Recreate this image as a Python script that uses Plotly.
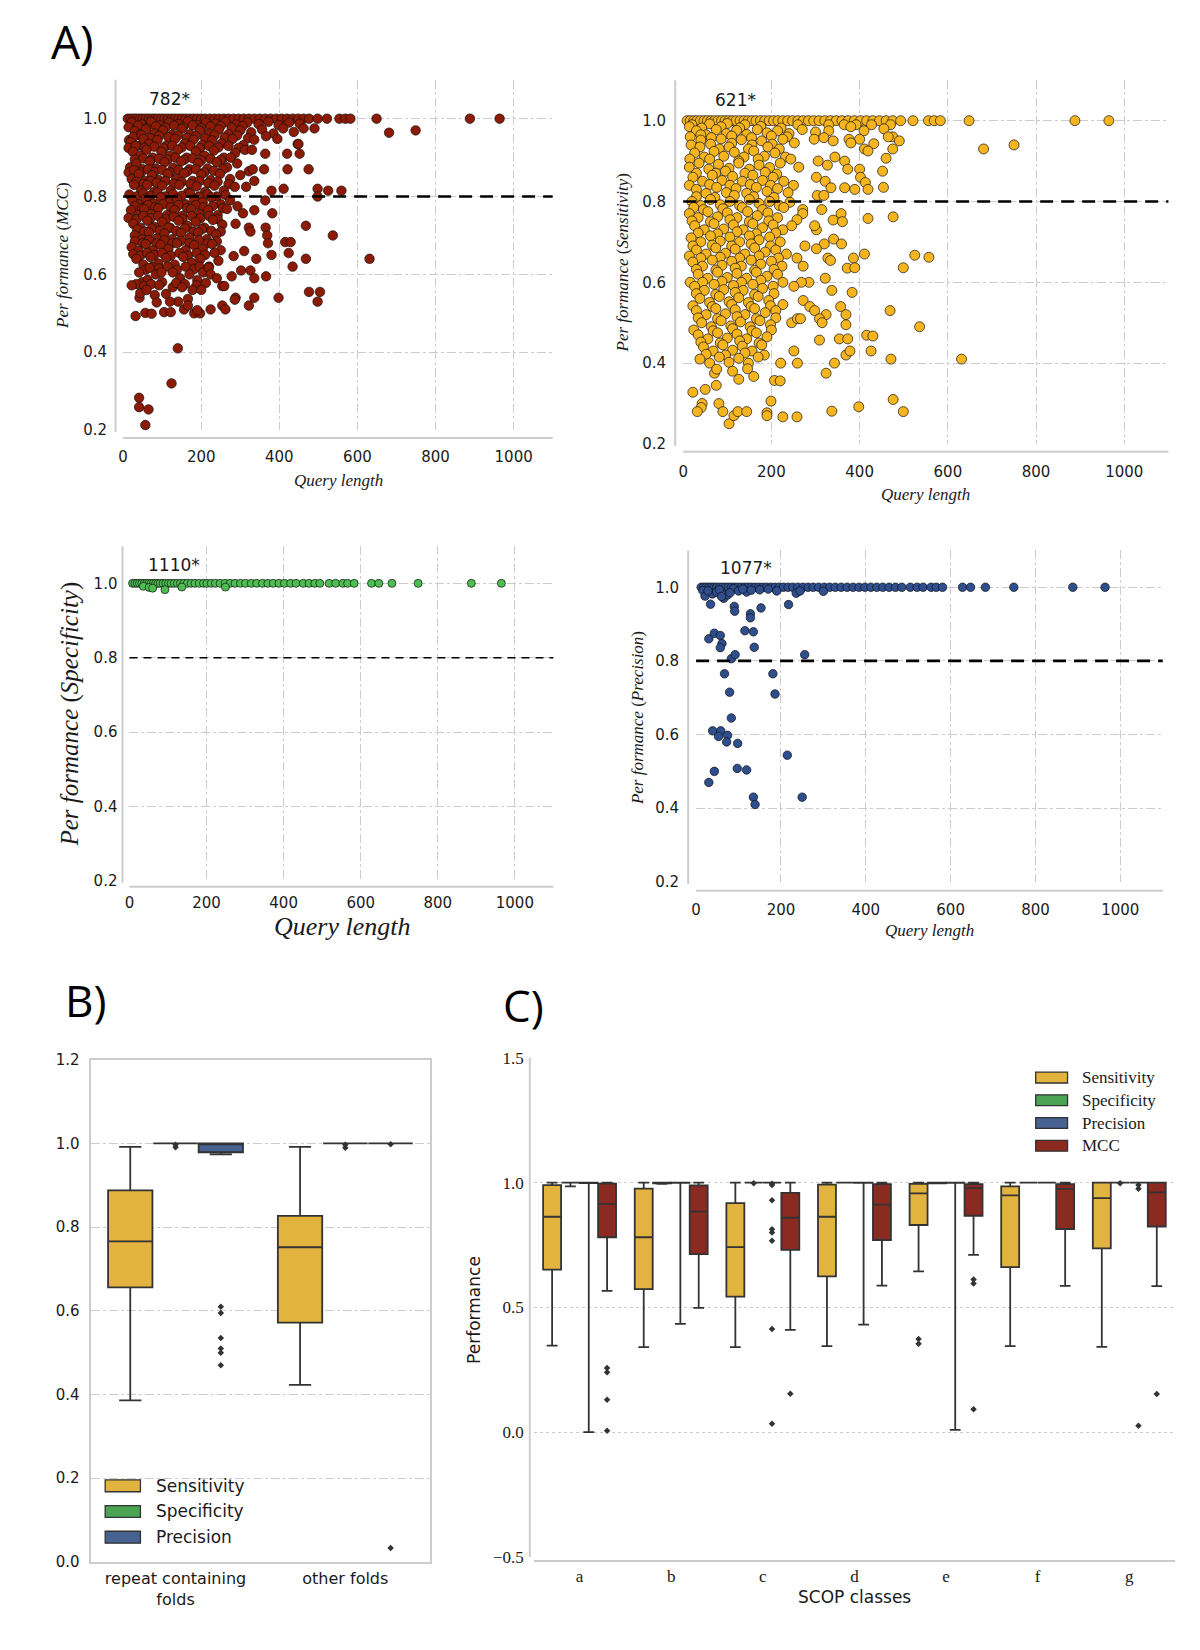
import plotly.graph_objects as go

W, H = 1200, 1650

# ===================== DATA =====================
query_ticks = [0, 200, 400, 600, 800, 1000]
perf_ticks = [0.2, 0.4, 0.6, 0.8, 1.0]
query_range = [0, 1100]
perf_range = [0.2, 1.1]
threshold = 0.8
metric_names = ["MCC", "Sensitivity", "Specificity", "Precision"]
perfect_labels = ["782*", "621*", "1110*", "1077*"]

# (query length, MCC)
mcc_points = [
    (12,1.0),(20,1.0),(28,1.0),(35,1.0),(43,1.0),(50,1.0),(58,1.0),(66,1.0),(74,1.0),(82,1.0),(90,1.0),(98,1.0),
    (106,1.0),(115,1.0),(124,1.0),(133,1.0),(142,1.0),(151,1.0),(160,1.0),(170,1.0),(180,1.0),(190,1.0),(200,1.0),
    (210,1.0),(222,1.0),(234,1.0),(246,1.0),(258,1.0),(270,1.0),(283,1.0),(296,1.0),(309,1.0),(322,1.0),(336,1.0),
    (350,1.0),(364,1.0),(378,1.0),(392,1.0),(406,1.0),(420,1.0),(434,1.0),(448,1.0),(462,1.0),(476,1.0),(498,1.0),
    (522,1.0),(554,1.0),(569,1.0),(582,1.0),(649,1.0),(888,1.0),(964,1.0),
    (22,0.99),(48,0.985),(71,0.992),(95,0.983),(118,0.99),(142,0.986),(166,0.993),(189,0.984),(212,0.99),(236,0.987),
    (262,0.992),(290,0.985),(318,0.99),(347,0.986),(372,0.992),(398,0.984),(425,0.99),(452,0.987),
    (14,0.978),(38,0.982),(60,0.976),(84,0.98),(108,0.977),(131,0.982),(154,0.978),(178,0.983),(200,0.976),(224,0.98),
    (250,0.981),(278,0.977),(306,0.981),
    (15,0.945),(30,0.968),(42,0.958),(58,0.972),(80,0.962),(102,0.97),(125,0.958),(150,0.974),(172,0.96),(196,0.97),
    (220,0.962),(245,0.972),(270,0.96),(300,0.97),(328,0.965),(356,0.972),(385,0.962),(410,0.975),(437,0.966),
    (462,0.975),(490,0.975),(681,0.964),(749,0.97),
    (26,0.953),(47,0.958),(70,0.95),(92,0.956),(116,0.952),(140,0.957),(163,0.951),(186,0.955),(210,0.95),(234,0.957),
    (260,0.952),(292,0.957),(320,0.95),
    (20,0.94),(36,0.93),(52,0.948),(66,0.935),(88,0.945),(110,0.93),(133,0.948),(158,0.936),(180,0.946),(203,0.932),
    (228,0.944),(252,0.936),(280,0.948),(308,0.932),(336,0.946),(366,0.955),(395,0.948),(447,0.935),(449,0.935),
    (14,0.925),(32,0.93),(55,0.925),(80,0.928),(103,0.924),(126,0.93),(150,0.926),(172,0.93),(196,0.924),(220,0.93),
    (244,0.926),(270,0.93),(296,0.925),
    (25,0.915),(44,0.905),(60,0.92),(76,0.9),(98,0.915),(120,0.905),(140,0.92),(163,0.9),(186,0.915),(208,0.905),
    (232,0.918),(258,0.9),(287,0.912),(312,0.92),(330,0.92),(364,0.91),(420,0.91),(452,0.91),
    (30,0.895),(52,0.898),(70,0.893),(92,0.897),(114,0.895),(134,0.9),(156,0.894),(178,0.898),(200,0.893),(224,0.897),
    (250,0.894),(276,0.9),
    (18,0.875),(34,0.885),(50,0.87),(68,0.89),(84,0.872),(106,0.888),(128,0.874),(148,0.89),(170,0.87),(192,0.886),
    (216,0.872),(240,0.888),(266,0.875),(292,0.885),(322,0.865),(332,0.87),(361,0.87),(421,0.87),(475,0.87),
    (14,0.862),(28,0.868),(46,0.862),(64,0.87),(80,0.863),(100,0.868),(120,0.862),(142,0.868),(164,0.864),(186,0.87),
    (208,0.862),(232,0.866),(256,0.87),
    (22,0.845),(40,0.858),(56,0.84),(74,0.855),(92,0.842),(114,0.858),(136,0.845),(156,0.86),(178,0.84),(200,0.856),
    (224,0.842),(248,0.858),(274,0.845),(300,0.855),(336,0.84),
    (34,0.838),(52,0.832),(70,0.84),(86,0.835),(108,0.84),(130,0.833),(150,0.838),(172,0.832),(196,0.84),(218,0.834),
    (242,0.838),(270,0.832),
    (28,0.83),(46,0.815),(62,0.83),(80,0.812),(100,0.828),(122,0.815),(144,0.83),(166,0.81),(188,0.826),(210,0.812),
    (234,0.828),(258,0.815),(286,0.825),(315,0.825),(380,0.815),(411,0.82),(498,0.82),(525,0.815),(559,0.815),
    (16,0.805),(34,0.8),(52,0.808),(70,0.802),(88,0.81),(108,0.8),(128,0.806),(150,0.802),(172,0.808),(194,0.8),
    (216,0.806),(240,0.8),(262,0.804),
    (24,0.79),(42,0.78),(58,0.795),(78,0.782),(96,0.798),(118,0.785),(138,0.795),(160,0.78),(182,0.792),(204,0.785),
    (226,0.798),(250,0.78),(274,0.79),(364,0.79),(498,0.80),
    (30,0.775),(48,0.77),(64,0.778),(82,0.772),(102,0.78),(122,0.772),(142,0.778),(164,0.77),(186,0.778),(206,0.772),
    (230,0.776),(256,0.77),
    (20,0.765),(38,0.752),(54,0.768),(72,0.755),(90,0.77),(112,0.752),(132,0.765),(152,0.75),(174,0.768),(196,0.755),
    (218,0.765),(242,0.752),(266,0.768),(293,0.775),(307,0.757),(336,0.765),(382,0.757),
    (14,0.745),(34,0.742),(52,0.75),(70,0.744),(90,0.75),(110,0.742),(130,0.748),(152,0.742),(176,0.75),(198,0.744),
    (220,0.75),(242,0.742),
    (26,0.73),(44,0.72),(62,0.738),(80,0.722),(100,0.735),(120,0.72),(142,0.738),(164,0.725),(186,0.735),(208,0.72),
    (230,0.74),(254,0.728),(288,0.73),(322,0.72),(365,0.72),(468,0.725),
    (36,0.715),(54,0.71),(74,0.718),(94,0.712),(116,0.72),(136,0.712),(158,0.718),(180,0.71),(202,0.716),(226,0.712),
    (250,0.71),
    (30,0.7),(48,0.69),(66,0.708),(86,0.692),(106,0.705),(126,0.69),(148,0.706),(170,0.694),(192,0.708),(214,0.69),
    (238,0.702),(326,0.71),(369,0.70),(415,0.683),(429,0.683),(537,0.70),
    (30,0.685),(50,0.68),(66,0.688),(86,0.68),(106,0.688),(126,0.68),(148,0.686),(170,0.68),(194,0.688),(216,0.68),
    (240,0.685),
    (22,0.67),(40,0.66),(58,0.678),(76,0.662),(96,0.676),(116,0.665),(138,0.68),(160,0.662),(182,0.675),(204,0.665),
    (228,0.678),(250,0.662),(310,0.66),(371,0.68),(380,0.65),(424,0.655),
    (26,0.652),(44,0.648),(62,0.655),(80,0.65),(100,0.655),(122,0.648),(144,0.655),(166,0.648),(188,0.655),(210,0.65),
    (234,0.655),
    (34,0.64),(52,0.625),(70,0.645),(90,0.628),(110,0.642),(132,0.625),(154,0.645),(176,0.63),(198,0.64),(220,0.62),
    (244,0.635),(283,0.647),(341,0.64),(434,0.62),(468,0.64),(631,0.64),
    (58,0.612),(76,0.62),(92,0.615),(114,0.62),(138,0.612),(160,0.62),(182,0.614),(196,0.62),
    (41,0.605),(49,0.58),(63,0.586),(68,0.617),(84,0.6),(98,0.605),(100,0.58),(127,0.605),(127,0.567),(146,0.59),
    (170,0.6),(190,0.585),(205,0.605),(219,0.617),(224,0.6),(240,0.59),(278,0.595),(302,0.61),(326,0.61),(336,0.59),
    (366,0.595),
    (34,0.575),(54,0.57),(72,0.575),(92,0.572),(136,0.578),(158,0.575),(188,0.572),(212,0.578),
    (22,0.572),(42,0.54),(44,0.552),(151,0.567),(166,0.537),(141,0.53),(120,0.53),(81,0.547),(86,0.528),(254,0.57),
    (259,0.57),(288,0.54),(286,0.535),(336,0.54),(398,0.54),(476,0.555),(504,0.555),(498,0.53),(178,0.56),(200,0.56),
    (60,0.56),(110,0.55),
    (32,0.493),(57,0.501),(73,0.499),(105,0.503),(122,0.503),(156,0.51),(182,0.5),(197,0.50),(224,0.51),(254,0.52),
    (322,0.52),(166,0.52),(190,0.508),(262,0.51),
    (140,0.41),(124,0.32),(41,0.283),(41,0.259),(65,0.253),(57,0.213),
]

# (query length, Sensitivity)
sens_points = [
    (9,1.0),(16,1.0),(24,1.0),(31,1.0),(39,1.0),(47,1.0),(55,1.0),(63,1.0),(71,1.0),(79,1.0),(87,1.0),(95,1.0),
    (103,1.0),(111,1.0),(120,1.0),(129,1.0),(138,1.0),(147,1.0),(156,1.0),(165,1.0),(175,1.0),(185,1.0),(195,1.0),
    (205,1.0),(215,1.0),(226,1.0),(237,1.0),(248,1.0),(260,1.0),(272,1.0),(284,1.0),(296,1.0),(308,1.0),(321,1.0),
    (334,1.0),(347,1.0),(360,1.0),(374,1.0),(388,1.0),(402,1.0),(416,1.0),(430,1.0),(445,1.0),(460,1.0),(475,1.0),
    (493,1.0),(521,1.0),(556,1.0),(569,1.0),(583,1.0),(648,1.0),(888,1.0),(965,1.0),
    (20,0.99),(60,0.992),(100,0.993),(140,0.99),(260,0.99),(330,0.99),(365,0.99),(392,0.99),(427,0.99),(470,0.99),
    (14,0.985),(42,0.982),(86,0.985),(128,0.982),(176,0.986),(222,0.982),
    (30,0.975),(52,0.965),(75,0.978),(98,0.968),(121,0.976),(144,0.966),(168,0.978),(190,0.97),(214,0.975),(240,0.968),
    (270,0.978),(300,0.972),(330,0.975),(380,0.985),(410,0.975),(455,0.98),(475,0.96),(490,0.95),
    (16,0.96),(40,0.965),(64,0.958),(110,0.962),(155,0.958),(200,0.962),(236,0.96),
    (18,0.94),(40,0.952),(62,0.942),(86,0.955),(110,0.944),(132,0.953),(156,0.94),(178,0.95),(202,0.942),(226,0.954),
    (252,0.945),(297,0.954),(319,0.958),(340,0.95),(376,0.954),(400,0.954),(380,0.945),(432,0.943),(475,0.93),
    (411,0.93),(419,0.925),(681,0.93),(750,0.94),(465,0.96),
    (38,0.935),(82,0.93),(104,0.935),(148,0.93),(192,0.935),(218,0.93),
    (26,0.92),(48,0.91),(70,0.924),(92,0.912),(116,0.922),(138,0.91),(160,0.925),(184,0.912),(208,0.92),(232,0.91),
    (306,0.90),(344,0.91),(366,0.90),(460,0.907),
    (15,0.905),(60,0.905),(126,0.9),(170,0.905),(244,0.905),
    (14,0.885),(36,0.895),(58,0.88),(80,0.892),(104,0.882),(126,0.895),(150,0.88),(172,0.89),(196,0.884),(220,0.895),
    (262,0.885),(327,0.89),(373,0.88),(400,0.88),(452,0.875),
    (30,0.87),(74,0.87),(96,0.875),(140,0.87),(186,0.872),(212,0.868),
    (22,0.86),(44,0.85),(66,0.865),(88,0.852),(112,0.862),(134,0.85),(158,0.865),(180,0.852),(204,0.86),(228,0.85),
    (302,0.86),(322,0.85),(402,0.86),(413,0.847),
    (14,0.84),(60,0.842),(106,0.84),(152,0.842),(198,0.84),(250,0.84),
    (30,0.83),(52,0.82),(76,0.835),(98,0.822),(120,0.832),(144,0.82),(166,0.835),(190,0.825),(214,0.832),(238,0.822),
    (335,0.834),(366,0.834),(389,0.83),(419,0.83),(454,0.835),(304,0.815),(319,0.815),
    (30,0.812),(72,0.81),(116,0.815),(160,0.812),(206,0.81),
    (20,0.8),(40,0.79),(62,0.805),(84,0.792),(106,0.8),(128,0.79),(150,0.805),(172,0.795),(196,0.8),(218,0.79),
    (242,0.798),(314,0.78),
    (24,0.785),(46,0.78),(90,0.782),(134,0.785),(180,0.78),(228,0.785),
    (14,0.77),(34,0.76),(56,0.775),(78,0.762),(100,0.772),(122,0.76),(146,0.775),(168,0.765),(192,0.772),(214,0.76),
    (271,0.78),(271,0.77),(340,0.754),(358,0.77),(361,0.75),(419,0.758),(476,0.762),
    (20,0.752),(62,0.75),(106,0.755),(150,0.75),(194,0.752),
    (26,0.74),(48,0.73),(70,0.745),(92,0.732),(114,0.742),(136,0.73),(158,0.745),(180,0.735),(204,0.742),(226,0.73),
    (258,0.755),(246,0.74),(302,0.73),(298,0.74),
    (34,0.722),(78,0.72),(122,0.725),(166,0.72),(210,0.722),
    (18,0.71),(40,0.7),(62,0.715),(84,0.702),(106,0.712),(128,0.7),(150,0.715),(172,0.705),(196,0.712),(220,0.7),
    (341,0.707),(359,0.695),(320,0.695),(302,0.683),(276,0.69),
    (22,0.69),(66,0.692),(110,0.69),(154,0.695),(198,0.69),
    (30,0.68),(52,0.67),(74,0.685),(96,0.672),(118,0.682),(140,0.67),(162,0.685),(186,0.675),(210,0.68),(234,0.67),
    (258,0.66),(328,0.66),(334,0.654),(386,0.66),(411,0.67),(525,0.667),(557,0.662),
    (14,0.665),(40,0.66),(84,0.662),(128,0.66),(172,0.665),(216,0.66),
    (22,0.65),(44,0.64),(66,0.655),(88,0.642),(110,0.652),(132,0.64),(154,0.655),(176,0.645),(200,0.652),(224,0.64),
    (272,0.64),(372,0.635),(389,0.636),(499,0.636),
    (30,0.632),(74,0.63),(118,0.635),(162,0.63),(206,0.632),
    (34,0.62),(56,0.61),(78,0.625),(100,0.612),(122,0.622),(144,0.61),(166,0.625),(190,0.615),(214,0.62),(285,0.60),
    (268,0.60),(322,0.61),
    (16,0.6),(44,0.6),(88,0.602),(132,0.6),(176,0.605),(226,0.6),
    (26,0.59),(48,0.58),(70,0.595),(92,0.582),(114,0.592),(136,0.58),(158,0.595),(180,0.585),(204,0.59),(251,0.59),
    (337,0.58),(383,0.575),
    (30,0.572),(74,0.57),(118,0.575),(162,0.57),(206,0.572),
    (38,0.56),(60,0.55),(82,0.565),(104,0.552),(126,0.562),(148,0.55),(170,0.565),(194,0.555),(226,0.545),(272,0.555),
    (287,0.54),(357,0.54),
    (22,0.542),(66,0.54),(110,0.545),(154,0.54),(198,0.542),
    (30,0.53),(52,0.52),(74,0.535),(96,0.522),(118,0.532),(140,0.52),(162,0.535),(186,0.525),(210,0.53),(298,0.53),
    (324,0.52),(369,0.52),(469,0.53),
    (34,0.512),(78,0.51),(122,0.515),(166,0.51),(210,0.512),
    (42,0.5),(64,0.49),(86,0.505),(108,0.492),(130,0.502),(152,0.49),(174,0.505),(198,0.495),(246,0.50),(259,0.51),
    (266,0.51),(309,0.51),(315,0.50),(369,0.495),(536,0.49),
    (24,0.482),(68,0.48),(112,0.485),(156,0.48),(200,0.482),
    (34,0.47),(56,0.46),(78,0.475),(100,0.462),(122,0.472),(144,0.46),(166,0.475),(190,0.465),(354,0.46),(373,0.46),
    (309,0.457),(416,0.469),(430,0.467),
    (40,0.452),(84,0.45),(128,0.455),(172,0.45),
    (46,0.44),(68,0.43),(90,0.445),(112,0.432),(134,0.442),(156,0.43),(178,0.445),(251,0.43),(369,0.42),(378,0.43),
    (426,0.43),
    (52,0.422),(96,0.42),(140,0.425),(184,0.42),
    (38,0.41),(60,0.4),(82,0.415),(104,0.402),(126,0.412),(148,0.4),(170,0.415),(221,0.40),(259,0.40),(343,0.40),
    (471,0.41),(631,0.41),
    (75,0.345),(71,0.375),(76,0.385),(112,0.38),(126,0.36),(146,0.386),(160,0.367),(207,0.357),(220,0.356),(324,0.375),
    (22,0.328),(50,0.335),(43,0.3),(41,0.29),(32,0.28),(81,0.3),(90,0.28),(104,0.25),(115,0.27),(124,0.28),
    (144,0.28),(190,0.277),(190,0.27),(199,0.306),(226,0.267),(258,0.267),(337,0.281),(398,0.292),(476,0.31),(499,0.28),
]

# (query length, Specificity)
spec_points = [
    (8,1.0),(14,1.0),(20,1.0),(26,1.0),(32,1.0),(38,1.0),(44,1.0),(50,1.0),(56,1.0),(62,1.0),(68,1.0),(74,1.0),
    (80,1.0),(87,1.0),(94,1.0),(101,1.0),(108,1.0),(116,1.0),(124,1.0),(132,1.0),(141,1.0),(150,1.0),(160,1.0),
    (170,1.0),(181,1.0),(192,1.0),(201,1.0),(212,1.0),(223,1.0),(235,1.0),(248,1.0),(261,1.0),(274,1.0),(288,1.0),
    (301,1.0),(316,1.0),(330,1.0),(345,1.0),(359,1.0),(373,1.0),(388,1.0),(402,1.0),(418,1.0),(432,1.0),(451,1.0),
    (466,1.0),(481,1.0),(494,1.0),(518,1.0),(535,1.0),(554,1.0),(566,1.0),(583,1.0),(628,1.0),(647,1.0),(681,1.0),
    (749,1.0),(887,1.0),(965,1.0),
    (36,0.992),(51,0.989),(60,0.987),(92,0.983),(136,0.99),(249,0.99),
]

# (query length, Precision)
prec_points = [
    (12,1.0),(18,1.0),(24,1.0),(30,1.0),(36,1.0),(42,1.0),(48,1.0),(55,1.0),(62,1.0),(69,1.0),(76,1.0),(83,1.0),
    (90,1.0),(98,1.0),(106,1.0),(114,1.0),(122,1.0),(130,1.0),(139,1.0),(148,1.0),(157,1.0),(166,1.0),(176,1.0),
    (186,1.0),(196,1.0),(206,1.0),(217,1.0),(228,1.0),(240,1.0),(252,1.0),(264,1.0),(276,1.0),(289,1.0),(302,1.0),
    (315,1.0),(328,1.0),(342,1.0),(356,1.0),(370,1.0),(384,1.0),(398,1.0),(412,1.0),(426,1.0),(440,1.0),(455,1.0),
    (470,1.0),(485,1.0),(505,1.0),(521,1.0),(535,1.0),(554,1.0),(566,1.0),(581,1.0),(628,1.0),(647,1.0),(682,1.0),
    (749,1.0),(888,1.0),(964,1.0),
    (16,0.991),(21,0.976),(39,0.982),(48,0.987),(65,0.97),(74,0.979),(88,0.996),(119,0.987),(236,0.984),(300,0.989),
    (28,0.99),(55,0.993),(80,0.985),(60,0.975),(100,0.99),(110,0.995),(130,0.992),(150,0.993),(170,0.995),(190,0.99),
    (245,0.99),
    (34,0.954),(90,0.948),(91,0.935),(128,0.928),(128,0.917),(153,0.944),(218,0.953),(115,0.882),(135,0.879),
    (30,0.86),(43,0.875),(57,0.869),(61,0.847),(57,0.836),(137,0.837),(83,0.806),(92,0.817),(256,0.817),
    (67,0.765),(181,0.765),(186,0.71),(79,0.715),(83,0.645),(39,0.61),(58,0.61),(53,0.595),(74,0.598),(72,0.58),
    (98,0.576),(215,0.544),(97,0.508),(119,0.504),(43,0.5),(30,0.47),(135,0.43),(139,0.41),(250,0.43),
]

# ---- B) box statistics: (lower whisker, Q1, median, Q3, upper whisker) ----
fold_groups = ["repeat containing<br>folds", "other folds"]
b_sensitivity = [(0.386, 0.656, 0.766, 0.888, 0.992), (0.423, 0.572, 0.752, 0.827, 0.992)]
b_specificity = [(1.0, 1.0, 1.0, 1.0, 1.0), (1.0, 1.0, 1.0, 1.0, 1.0)]
b_precision = [(0.974, 0.979, 1.0, 1.0, 1.0), (1.0, 1.0, 1.0, 1.0, 1.0)]
b_sens_fliers = [[], []]
b_spec_fliers = [[0.997, 0.991], [0.997, 0.99]]
b_prec_fliers = [[0.61, 0.595, 0.535, 0.51, 0.50, 0.47], [0.998, 0.033]]
b_ticks = [0.0, 0.2, 0.4, 0.6, 0.8, 1.0, 1.2]

# ---- C) box statistics per SCOP class ----
scop_classes = ["a", "b", "c", "d", "e", "f", "g"]
c_sensitivity = [
    (0.347, 0.651, 0.863, 0.990, 1.0), (0.341, 0.573, 0.781, 0.976, 1.0), (0.341, 0.543, 0.741, 0.918, 1.0),
    (0.345, 0.624, 0.863, 0.992, 1.0), (0.644, 0.830, 0.957, 0.995, 1.0), (0.345, 0.661, 0.949, 0.985, 1.0),
    (0.342, 0.736, 0.938, 1.0, 1.0)]
c_specificity = [
    (0.985, 1.0, 1.0, 1.0, 1.0), (0.995, 0.997, 1.0, 1.0, 1.0), (1.0, 1.0, 1.0, 1.0, 1.0),
    (1.0, 1.0, 1.0, 1.0, 1.0), (0.997, 0.997, 1.0, 1.0, 1.0), (1.0, 1.0, 1.0, 1.0, 1.0),
    (1.0, 1.0, 1.0, 1.0, 1.0)]
c_precision = [
    (0.0, 0.998, 1.0, 1.0, 1.0), (0.434, 0.999, 1.0, 1.0, 1.0), (1.0, 1.0, 1.0, 1.0, 1.0),
    (0.431, 0.999, 1.0, 1.0, 1.0), (0.009, 0.999, 1.0, 1.0, 1.0), (1.0, 1.0, 1.0, 1.0, 1.0),
    (1.0, 1.0, 1.0, 1.0, 1.0)]
c_mcc = [
    (0.566, 0.781, 0.915, 0.996, 1.0), (0.498, 0.713, 0.884, 0.989, 1.0), (0.410, 0.730, 0.859, 0.959, 1.0),
    (0.587, 0.770, 0.912, 0.994, 1.0), (0.710, 0.867, 0.978, 0.994, 1.0), (0.586, 0.814, 0.975, 0.994, 1.0),
    (0.585, 0.824, 0.961, 1.0, 1.0)]
c_sens_fliers = [[], [], [], [], [0.373, 0.354], [], []]
c_spec_fliers = [[], [], [0.997], [], [], [], [0.997]]
c_prec_fliers = [[], [], [0.995, 0.99, 0.929, 0.813, 0.80, 0.767, 0.413, 0.034], [], [], [], [0.99, 0.975, 0.026]]
c_mcc_fliers = [[0.257, 0.24, 0.13, 0.006], [], [0.154], [], [0.612, 0.596, 0.092], [], [0.153]]
c_ticks = [-0.5, 0.0, 0.5, 1.0, 1.5]
c_range = [-0.5, 1.5]

# ===================== STYLE / LAYOUT =====================
SCATTER_COLORS = {"MCC": "#8C1A05", "Sensitivity": "#F6B51E", "Specificity": "#4DBE52", "Precision": "#2E4E8E"}
BOX_COLORS = {"Sensitivity": "#E3B33F", "Specificity": "#4BA454", "Precision": "#476191", "MCC": "#8A2A20"}
GRID = "#cccccc"
SPINE = "#cccccc"
EDGE = "#333333"
SANS = "DejaVu Sans"
SERIF = "Liberation Serif"


def fx(px):
    return px / W


def fy(py):
    return 1 - py / H


fig = go.Figure()
shapes = []
annotations = []


def text(s, x, y, size, family, xanchor="center", yanchor="middle", angle=0, color="#1a1a1a"):
    annotations.append(dict(text=s, x=fx(x), y=fy(y), xref="paper", yref="paper", showarrow=False,
                            xanchor=xanchor, yanchor=yanchor, textangle=angle,
                            font=dict(size=size, family=family, color=color)))


def hline_px(x0, x1, y, color, width, dash="solid"):
    shapes.append(dict(type="line", xref="paper", yref="paper", x0=fx(x0), x1=fx(x1), y0=fy(y), y1=fy(y),
                       line=dict(color=color, width=width, dash=dash)))


def vline_px(x, y0, y1, color, width):
    shapes.append(dict(type="line", xref="paper", yref="paper", x0=fx(x), x1=fx(x), y0=fy(y0), y1=fy(y1),
                       line=dict(color=color, width=width)))


# ---------------- A) scatter panels ----------------
A_PANELS = [
    dict(name="MCC", pts=mcc_points, ax="", x0=118.6, x1=550.0, top=71.6, bot=426.0, yspine=111, xspine=434,
         size=9.5, lw=2.6, dash="13px,8px", lab=(165, 91), yt=(57, 250), xt=(335, 477), tsize=17, xtsize=17,
         tick=15, ystand=15, xstand=16),
    dict(name="Sensitivity", pts=sens_points, ax="2", x0=681, x1=1168.3, top=72.1, bot=440.0, yspine=673,
         xspine=448, size=10, lw=2.6, dash="13px,8px", lab=(734, 92), yt=(620, 257), xt=(924, 491), tsize=17,
         xtsize=17, tick=15, ystand=16, xstand=17),
    dict(name="Specificity", pts=spec_points, ax="3", x0=125, x1=550.7, top=543.4, bot=882.0, yspine=118,
         xspine=888, size=8, lw=1.6, dash="8px,6px", lab=(170, 562), yt=(65, 713), xt=(338, 928), tsize=25,
         xtsize=26, tick=15, ystand=11, xstand=11),
    dict(name="Precision", pts=prec_points, ax="4", x0=694, x1=1162.6, top=547.75, bot=883.0, yspine=686,
         xspine=892, size=8.5, lw=2.6, dash="13px,8px", lab=(744, 566), yt=(635, 717), xt=(928, 932), tsize=17,
         xtsize=17, tick=15, ystand=16, xstand=17),
]

for p, lab in zip(A_PANELS, perfect_labels):
    ax = p["ax"]
    xs = [pt[0] for pt in p["pts"]]
    ys = [pt[1] for pt in p["pts"]]
    fig.add_trace(go.Scatter(x=xs, y=ys, mode="markers", xaxis="x" + ax, yaxis="y" + ax, showlegend=False,
                             cliponaxis=False, hoverinfo="skip",
                             marker=dict(size=p["size"], color=SCATTER_COLORS[p["name"]],
                                         line=dict(color="#111111", width=0.7))))
    common = dict(showgrid=True, gridcolor=GRID, griddash="dashdot", gridwidth=1, zeroline=False, showline=False,
                  ticks="", tickfont=dict(size=p["tick"], family=SANS, color="#1a1a1a"))
    fig.update_layout(**{
        "xaxis" + ax: dict(domain=[fx(p["x0"]), fx(p["x1"])], range=query_range, tickvals=query_ticks,
                           anchor="y" + ax, ticklabelstandoff=p["xstand"], **common),
        "yaxis" + ax: dict(domain=[fy(p["bot"]), fy(p["top"])], range=perf_range, tickvals=perf_ticks,
                           tickformat=".1f", anchor="x" + ax, ticklabelstandoff=p["ystand"], **common),
    })
    # spines (offset like seaborn despine)
    vline_px(p["yspine"], p["top"], p["bot"] + 2, SPINE, 2)
    hline_px(p["x0"], p["x1"], p["xspine"], SPINE, 2)
    # threshold line
    shapes.append(dict(type="line", xref="x" + ax + " domain" if ax else "x domain", yref="y" + ax,
                       x0=0, x1=1, y0=threshold, y1=threshold,
                       line=dict(color="black", width=p["lw"], dash=p["dash"])))
    text(lab, p["lab"][0], p["lab"][1], 17, SANS)
    text("<i>Per formance</i> (<i>%s</i>)" % p["name"], p["yt"][0], p["yt"][1], p["tsize"], SERIF, angle=-90)
    text("<i>Query length</i>", p["xt"][0], p["xt"][1], p["xtsize"], SERIF)

# ---------------- B) box plot ----------------
B_X0, B_X1, B_TOP, B_BOT = 86, 427, 1063, 1571
b_metrics = [("Sensitivity", b_sensitivity, b_sens_fliers),
             ("Specificity", b_specificity, b_spec_fliers),
             ("Precision", b_precision, b_prec_fliers)]
b_step = 0.8 / len(b_metrics)
for h, (name, stats, fliers) in enumerate(b_metrics):
    off = (h - (len(b_metrics) - 1) / 2) * b_step
    pos = [i + off for i in range(len(fold_groups))]
    fig.add_trace(go.Box(x=pos, lowerfence=[s[0] for s in stats], q1=[s[1] for s in stats],
                         median=[s[2] for s in stats], q3=[s[3] for s in stats],
                         upperfence=[s[4] for s in stats], orientation="v", width=b_step * 0.98,
                         whiskerwidth=0.5, boxpoints=False, fillcolor=BOX_COLORS[name],
                         line=dict(color=EDGE, width=1.8), xaxis="x5", yaxis="y5", showlegend=False,
                         hoverinfo="skip"))
    fxs, fys = [], []
    for i, fl in enumerate(fliers):
        for v in fl:
            fxs.append(i + off)
            fys.append(v)
    if fxs:
        fig.add_trace(go.Scatter(x=fxs, y=fys, mode="markers", xaxis="x5", yaxis="y5", showlegend=False,
                                 hoverinfo="skip", cliponaxis=False,
                                 marker=dict(symbol="diamond", size=5, color=EDGE)))

fig.update_layout(
    xaxis5=dict(domain=[fx(B_X0), fx(B_X1)], range=[-0.5, len(fold_groups) - 0.5],
                tickvals=list(range(len(fold_groups))), ticktext=fold_groups, anchor="y5",
                showgrid=False, zeroline=False, showline=True, mirror=True, linecolor=SPINE, linewidth=2,
                ticks="", ticklabelstandoff=1, tickfont=dict(size=16, family=SANS, color="#1a1a1a")),
    yaxis5=dict(domain=[fy(B_BOT), fy(B_TOP)], range=[0, 1.2], tickvals=b_ticks, tickformat=".1f", anchor="x5",
                showgrid=True, gridcolor=GRID, griddash="dashdot", gridwidth=1, zeroline=False, showline=True,
                mirror=True, linecolor=SPINE, linewidth=2, ticks="", ticklabelstandoff=6,
                tickfont=dict(size=15, family=SANS, color="#1a1a1a")),
)

# B legend
for k, name in enumerate(["Sensitivity", "Specificity", "Precision"]):
    cy = 1494 + k * 26
    shapes.append(dict(type="rect", xref="paper", yref="paper", x0=fx(100.6), x1=fx(136), y0=fy(cy + 6),
                       y1=fy(cy - 6), fillcolor=BOX_COLORS[name], line=dict(color=EDGE, width=1.3)))
    text(name, 150, cy, 17, SANS, xanchor="left")

# ---------------- C) box plot ----------------
C_X0, C_X1, C_TOP, C_BOT = 531, 1175, 1061, 1566
c_metrics = [("Sensitivity", c_sensitivity, c_sens_fliers),
             ("Specificity", c_specificity, c_spec_fliers),
             ("Precision", c_precision, c_prec_fliers),
             ("MCC", c_mcc, c_mcc_fliers)]
c_step = 0.8 / len(c_metrics)
for h, (name, stats, fliers) in enumerate(c_metrics):
    off = (h - (len(c_metrics) - 1) / 2) * c_step
    pos = [i + off for i in range(len(scop_classes))]
    fig.add_trace(go.Box(x=pos, lowerfence=[s[0] for s in stats], q1=[s[1] for s in stats],
                         median=[s[2] for s in stats], q3=[s[3] for s in stats],
                         upperfence=[s[4] for s in stats], orientation="v", width=c_step * 0.98,
                         whiskerwidth=0.6, boxpoints=False, fillcolor=BOX_COLORS[name],
                         line=dict(color=EDGE, width=1.8), xaxis="x6", yaxis="y6", showlegend=False,
                         hoverinfo="skip"))
    fxs, fys = [], []
    for i, fl in enumerate(fliers):
        for v in fl:
            fxs.append(i + off)
            fys.append(v)
    if fxs:
        fig.add_trace(go.Scatter(x=fxs, y=fys, mode="markers", xaxis="x6", yaxis="y6", showlegend=False,
                                 hoverinfo="skip", cliponaxis=False,
                                 marker=dict(symbol="diamond", size=5, color=EDGE)))

fig.update_layout(
    xaxis6=dict(domain=[fx(C_X0), fx(C_X1)], range=[-0.5, len(scop_classes) - 0.5],
                tickvals=list(range(len(scop_classes))), ticktext=scop_classes, anchor="y6",
                showgrid=False, zeroline=False, showline=False, ticks="", ticklabelstandoff=7,
                tickfont=dict(size=17, family=SERIF, color="#1a1a1a")),
    yaxis6=dict(domain=[fy(C_BOT), fy(C_TOP)], range=c_range, tickvals=c_ticks, tickformat=".1f", anchor="x6",
                showgrid=True, gridcolor=GRID, griddash="dot", gridwidth=1, zeroline=False, showline=False,
                ticks="", ticklabelstandoff=9, tickfont=dict(size=17, family=SERIF, color="#1a1a1a")),
)
vline_px(527, C_TOP, C_BOT, SPINE, 2)
hline_px(C_X0, C_X1, 1570, SPINE, 2)
text("Performance", 471, 1316, 17, SANS, angle=-90)
text("SCOP classes", 853, 1606, 17, SANS)

# C legend
for k, name in enumerate(["Sensitivity", "Specificity", "Precision", "MCC"]):
    cy = 1081 + k * 23
    shapes.append(dict(type="rect", xref="paper", yref="paper", x0=fx(1035), x1=fx(1067), y0=fy(cy + 5.5),
                       y1=fy(cy - 5.5), fillcolor=BOX_COLORS[name], line=dict(color=EDGE, width=1.3)))
    text(name, 1079, cy, 17, SERIF, xanchor="left")

# panel letters
text("A)", 44, 32, 46, "Open Sans", xanchor="left", color="black")
text("B)", 58, 1003, 44, "Open Sans", xanchor="left", color="black")
text("C)", 498, 1008, 44, "Open Sans", xanchor="left", color="black")

fig.update_layout(width=W, height=H, autosize=False, margin=dict(l=0, r=0, t=0, b=0),
                  paper_bgcolor="white", plot_bgcolor="white", boxmode="overlay",
                  shapes=shapes, annotations=annotations)

PIN_PAGE = ("document.documentElement.style.margin='0';document.body.style.margin='0';"
            "document.body.style.padding='0';document.documentElement.style.overflow='hidden';"
            "document.body.style.overflow='hidden';"
            "var g=document.getElementsByClassName('plotly-graph-div')[0];"
            "g.style.position='absolute';g.style.left='0px';g.style.top='0px';")

fig.write_html("out.html", config={"displayModeBar": False}, post_script=PIN_PAGE)
